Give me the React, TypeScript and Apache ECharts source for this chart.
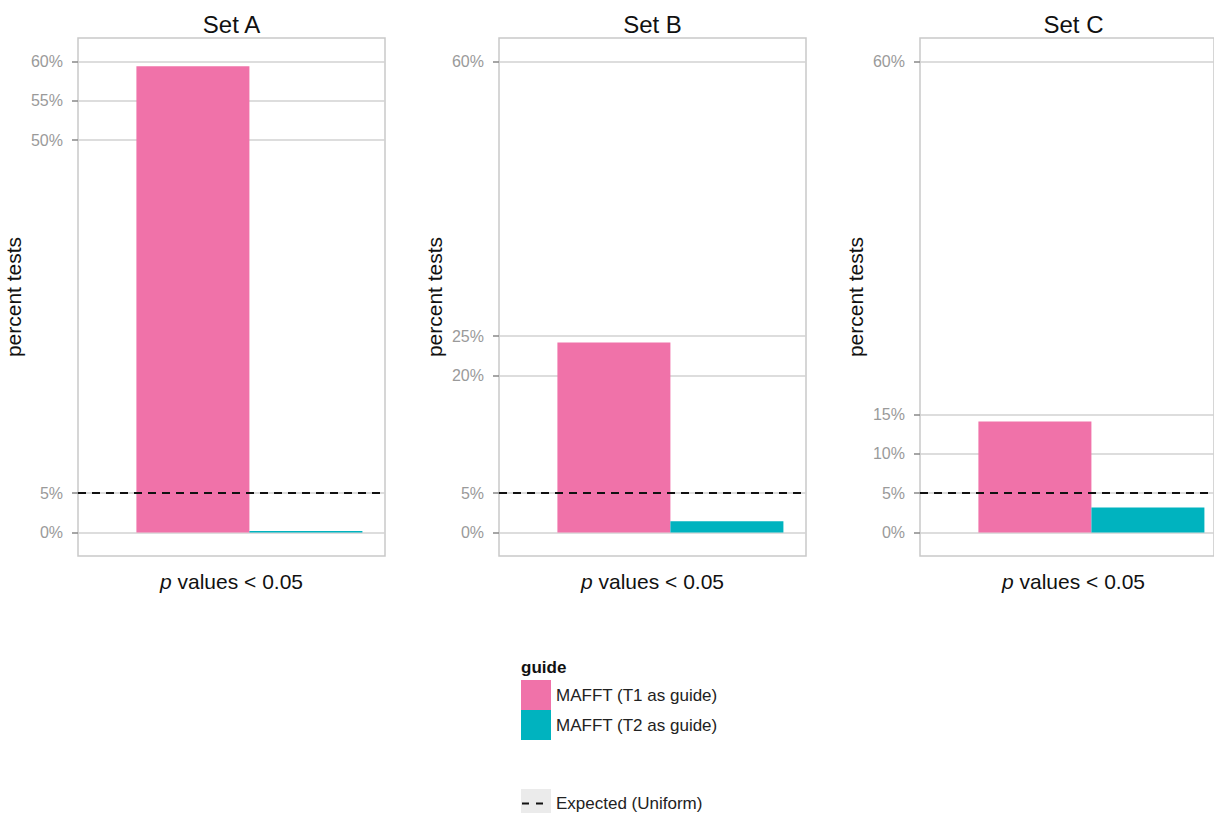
import React, { useEffect, useRef } from "react";
import * as echarts from "echarts";

const panelTitles = ["Set A", "Set B", "Set C"];
const seriesNames = ["MAFFT (T1 as guide)", "MAFFT (T2 as guide)"];
const t1Values = [59.4, 24.2, 14.15];
const t2Values = [0.2, 1.44, 3.19];
const tickValues = [
  [0, 5, 50, 55, 60],
  [0, 5, 20, 25, 60],
  [0, 5, 10, 15, 60],
];
const expectedValue = 5;
const xCategoryPos = 1;

const PINK = "#f072a9";
const TEAL = "#00b3bf";
const FONT = "Liberation Sans, Arial, Helvetica, sans-serif";

export default function App() {
  const ref = useRef<HTMLDivElement>(null);
  useEffect(() => {
    if (!ref.current) return;
    const chart = echarts.init(ref.current, null, { renderer: "svg" });
    const lefts = [78, 499, 920];
    const top = 38;
    const height = 518;
    const fullWidth = 307;
    const xMin = 0.33;
    const xSpan = 1.2;
    const canvasW = 1214;

    const grids: any[] = [];
    const xAxes: any[] = [];
    const yAxes: any[] = [];
    const series: any[] = [];
    const graphics: any[] = [];

    panelTitles.forEach((title, i) => {
      // the last panel is cut off by the canvas edge
      const w = Math.min(fullWidth, canvasW - lefts[i]);
      const xMax = xMin + (xSpan * w) / fullWidth;
      grids.push({
        left: lefts[i],
        top,
        width: w,
        height,
        show: true,
        borderColor: "#c9c9c9",
        borderWidth: 1.5,
        backgroundColor: "#fff",
        containLabel: false,
      });
      xAxes.push({
        type: "value",
        gridIndex: i,
        min: xMin,
        max: xMax,
        axisLine: { show: false },
        axisTick: { show: false },
        axisLabel: { show: false },
        splitLine: { show: false },
        name: "{i|p} values < 0.05",
        nameLocation: "middle",
        nameGap: 15,
        nameTextStyle: {
          fontFamily: FONT,
          fontSize: 21,
          color: "#111",
          verticalAlign: "top",
          padding: [0, 0, 0, i === 2 ? 0 : 0],
          rich: {
            i: { fontFamily: FONT, fontSize: 21, fontStyle: "italic", color: "#111" },
          },
        },
      });
      yAxes.push({
        type: "value",
        gridIndex: i,
        min: -3,
        max: 63,
        axisLine: { show: false },
        axisTick: {
          show: true,
          customValues: tickValues[i],
          length: 6,
          lineStyle: { color: "#888", width: 1.5 },
        },
        axisLabel: {
          customValues: tickValues[i],
          formatter: (v: number) => `${v}%`,
          color: "#9a9a9a",
          fontFamily: FONT,
          fontSize: 16,
          margin: 15,
        },
        splitLine: {
          show: true,
          lineStyle: { color: "#d2d2d2", width: 1.5 },
        },
        name: "percent tests",
        nameLocation: "middle",
        nameGap: 54,
        nameTextStyle: { fontFamily: FONT, fontSize: 21, color: "#111" },
      });
      series.push({
        type: "bar",
        name: seriesNames[0],
        xAxisIndex: i,
        yAxisIndex: i,
        data: [[xCategoryPos, t1Values[i]]],
        barWidth: 113,
        barGap: "0%",
        itemStyle: { color: PINK },
        markLine: {
          silent: true,
          symbol: "none",
          label: { show: false },
          lineStyle: { color: "#111", type: [8, 6], width: 2 },
          data: [{ yAxis: expectedValue }],
        },
      });
      series.push({
        type: "bar",
        name: seriesNames[1],
        xAxisIndex: i,
        yAxisIndex: i,
        data: [[xCategoryPos, t2Values[i]]],
        barWidth: 113,
        barGap: "0%",
        itemStyle: { color: TEAL },
      });
      // x-axis name centred on the full (uncut) panel
      graphics.push({
        type: "text",
        x: lefts[i] + fullWidth / 2,
        y: 24,
        style: {
          text: title,
          fontFamily: FONT,
          fontSize: 24,
          fill: "#111",
          align: "center",
          verticalAlign: "middle",
        },
      });
    });

    // the last panel's x name must centre on the full panel, so place it explicitly
    xAxes[2].name = "";
    graphics.push({
      type: "text",
      x: lefts[2] + fullWidth / 2,
      y: top + height + 15,
      style: {
        text: "{i|p} values < 0.05",
        fontFamily: FONT,
        fontSize: 21,
        fill: "#111",
        align: "center",
        verticalAlign: "top",
        rich: {
          i: { fontFamily: FONT, fontSize: 21, fontStyle: "italic", fill: "#111" },
        },
      },
    });

    graphics.push({
      type: "text",
      x: 521,
      y: 667,
      style: {
        text: "guide",
        fontFamily: FONT,
        fontSize: 17,
        fontWeight: "bold",
        fill: "#111",
        align: "left",
        verticalAlign: "middle",
      },
    });
    graphics.push({
      type: "rect",
      shape: { x: 521, y: 789, width: 30, height: 30 },
      style: { fill: "#ebebeb" },
    });
    graphics.push({
      type: "line",
      shape: { x1: 522, y1: 803.5, x2: 550, y2: 803.5 },
      style: { stroke: "#111", lineWidth: 2, lineDash: [7, 7] },
    });
    graphics.push({
      type: "text",
      x: 556,
      y: 803.5,
      style: {
        text: "Expected (Uniform)",
        fontFamily: FONT,
        fontSize: 17,
        fill: "#222",
        align: "left",
        verticalAlign: "middle",
      },
    });

    chart.setOption({
      animation: false,
      backgroundColor: "#fff",
      grid: grids,
      xAxis: xAxes,
      yAxis: yAxes,
      series,
      legend: {
        orient: "vertical",
        left: 521,
        top: 680,
        padding: 0,
        itemWidth: 30,
        itemHeight: 30,
        itemGap: 0,
        icon: "rect",
        selectedMode: false,
        data: seriesNames,
        textStyle: { fontFamily: FONT, fontSize: 17, color: "#222", padding: [0, 0, 0, 0] },
      },
      graphic: graphics,
    });
    return () => chart.dispose();
  }, []);

  return (
    <div
      ref={ref}
      style={{ position: "fixed", left: 0, top: 0, width: 1214, height: 813, background: "#fff" }}
    />
  );
}
